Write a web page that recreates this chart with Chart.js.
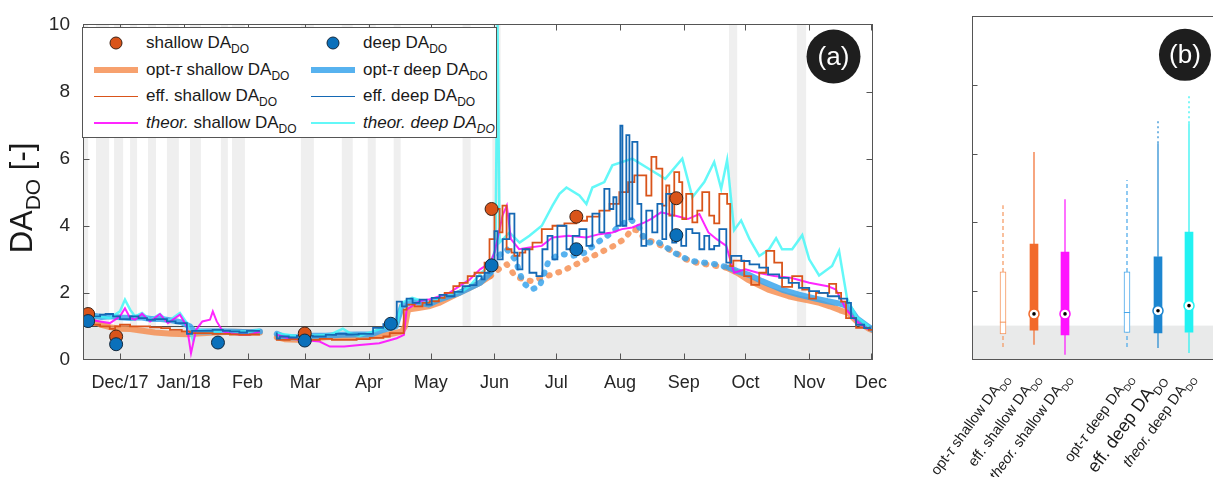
<!DOCTYPE html>
<html>
<head>
<meta charset="utf-8">
<script src="https://cdn.jsdelivr.net/npm/chart.js@4"></script>
<style>
  html, body { margin: 0; padding: 0; background: #fff; width: 1213px; height: 477px; overflow: hidden;
    font-family: "Liberation Sans", Arial, Helvetica, sans-serif; }
  #wrap { position: relative; width: 1213px; height: 477px; overflow: hidden; }
  #cA { position: absolute; left: 0; top: 0; }
  #cB { position: absolute; left: 900px; top: 0; }
  #legend { position: absolute; left: 82px; top: 27px; width: 415px; height: 111px; background: #fff;
    border: 1px solid #555; box-sizing: border-box; }
  .item { position: absolute; height: 24px; display: flex; align-items: center; font-size: 17px;
    color: #1a1a1a; white-space: nowrap; }
  .sym { width: 44px; height: 20px; position: relative; margin-right: 8px; flex: none; }
  .sym .ln { position: absolute; left: 0; right: 0; top: 50%; }
  .sym .dot { position: absolute; left: 50%; top: 50%; width: 13px; height: 13px; border-radius: 50%;
    transform: translate(-50%, -50%); box-sizing: border-box; }
  sub { font-size: 12px; vertical-align: -5px; line-height: 0; }
</style>
</head>
<body>
<div id="wrap">
  <canvas id="cA" width="900" height="477"></canvas>
  <canvas id="cB" width="360" height="477"></canvas>
  <div id="legend"></div>
</div>
<script>
// ---------- time axis: days counted from 1 Dec 2017 ----------
const monthTickDays   = [0, 31, 62, 90, 121, 151, 182, 212, 243, 274, 304, 335, 365];
const monthTickLabels = ['Dec/17', 'Jan/18', 'Feb', 'Mar', 'Apr', 'May', 'Jun', 'Jul', 'Aug', 'Sep', 'Oct', 'Nov', 'Dec'];
const yTickValues = [0, 2, 4, 6, 8, 10];
const refLevel = 1;

// periods shaded in the background (start day, end day)
const eventBands = [[-18, -15.5], [-11.7, -5.3], [-2.9, 1.5], [4.9, 8.3], [13.6, 17.5], [22.8, 28.6],
  [34, 39.3], [49, 52.4], [54.4, 60.7], [87.9, 94.2], [107.8, 113.1], [120.4, 124.3], [133, 136.4],
  [166.5, 170.4], [181, 185], [296, 300], [329, 333.5]];

// observed DA_DO at sampling campaigns [day, value]
const shallowObs = [[-15.5, 1.37], [-1.9, 0.7], [89.8, 0.79], [180.6, 4.5], [221.8, 4.27], [270.4, 4.82]];
const deepObs = [[-15.5, 1.16], [-1.9, 0.47], [47.6, 0.52], [89.8, 0.58], [131.6, 1.08], [180.6, 2.82], [221.8, 3.3], [270.4, 3.72]];

// opt-tau series
const optShallow = [[-17, 1.2], [-13, 1.15], [-9, 1.05], [-5, 0.98], [0, 0.93], [5, 0.92], [10, 0.88], [17, 0.82],
  [25, 0.78], [32.5, 0.77], [40, 0.8], [48, 0.83], [56, 0.84], [63, 0.83], [68, 0.82], [72, null],
  [76.2, 0.68], [80, 0.62], [86, 0.6], [94, 0.65], [100, 0.68], [108, 0.7], [115, 0.7], [122, 0.7], [130, 0.75],
  [137, 0.85], [138.5, 1.0], [140, 1.5], [145, 1.55], [150, 1.6], [155, 1.7], [160, 1.85], [165, 2.0], [170, 2.15],
  [175, 2.3], [180, 2.5], [184, 2.7], [188, 2.85], [192, 2.5], [196, 2.4], [200, 2.35], [205, 2.45], [210, 2.55],
  [215, 2.65], [220, 2.8], [225, 2.95], [230, 3.1], [235, 3.25], [240, 3.4], [245, 3.6], [249, 3.9], [252, 3.85],
  [255, 3.6], [260, 3.5], [265, 3.35], [270, 3.2], [275, 3.0], [280, 2.9], [285, 2.85], [290, 2.8], [295, 2.75],
  [300, 2.6], [305, 2.4], [310, 2.25], [315, 2.1], [320, 2.0], [325, 1.9], [330, 1.83], [335, 1.77], [340, 1.7],
  [345, 1.6], [350, 1.48], [354, 1.4], [358, 1.16], [364, 0.93], [366, 0.88]];
const optDeep = [[-17, 1.3], [-13, 1.32], [-9, 1.28], [-5, 1.3], [0, 1.27], [5, 1.25], [10, 1.27], [15, 1.22],
  [20, 1.22], [25, 1.18], [30, 1.12], [34, 1.0], [36, 0.85], [40, 0.85], [48, 0.86], [56, 0.84], [63, 0.83], [68, 0.85],
  [72, null], [76.2, 0.78], [80, 0.68], [86, 0.68], [94, 0.72], [100, 0.72], [108, 0.75], [115, 0.76], [122, 0.76],
  [128, 0.9], [134, 1.0], [137, 1.6], [142, 1.75], [150, 1.65], [155, 1.8], [160, 1.9], [165, 2.0], [170, 2.15],
  [175, 2.3], [180, 2.6], [184, 3.1], [188, 3.3], [192, 3.0], [196, 2.3], [200, 2.1], [204, 2.2], [208, 2.9],
  [212, 3.1], [216, 3.15], [220, 3.1], [226, 3.2], [232, 3.5], [238, 3.75], [243, 4.0], [248, 4.2], [252, 4.0],
  [256, 3.5], [262, 3.5], [267, 3.3], [272, 3.1], [278, 2.95], [284, 2.9], [290, 2.85], [296, 2.75], [300, 2.65],
  [306, 2.53], [312, 2.35], [318, 2.2], [322, 2.09], [330, 1.95], [338, 1.83], [344, 1.75], [350, 1.68], [354, 1.6],
  [358, 1.25], [364, 0.98], [366, 0.9]];

// effective series
const effShallow = [[-17, 1.3], [-13.6, 1.2], [-9.7, 1.05], [-5, 1.0], [-2.4, 0.93], [0, 1.0], [4.9, 1.05], [10, 1.0],
  [14.6, 1.0], [20, 0.97], [24.3, 0.95], [30, 0.9], [34, 0.85], [38.8, 0.8], [45, 0.8], [53.4, 0.78], [58, 0.76],
  [63.1, 0.75], [68, 0.76], [72, null], [76.2, 0.75], [82.5, 0.6], [87.4, 0.62], [93, 0.6], [97.1, 0.6], [103, 0.63],
  [109.2, 0.6], [115, 0.6], [121.4, 0.62], [128, 0.66], [131.1, 0.7], [137.9, 0.8], [139.3, 1.5], [143.2, 1.65],
  [147, 1.6], [150.5, 1.7], [155, 1.75], [157.8, 1.85], [162, 2.0], [165, 2.2], [169, 2.3], [172.3, 2.5], [177.2, 2.6],
  [179.6, 2.9], [182, 3.6], [184.5, 4.5], [185.9, 3.8], [187.9, 4.6], [190.3, 3.3], [191.7, 3.2], [194.2, 3.1],
  [197, 3.2], [200.5, 3.3], [205, 3.5], [210.2, 3.9], [216, 4.0], [221.8, 4.07], [227, 4.15], [233, 4.27],
  [238, 4.45], [242.7, 4.65], [247, 5.0], [250, 5.3], [252.4, 5.5], [255.8, 5.5], [258.3, 4.9], [260.7, 6.05],
  [263.6, 5.7], [265.5, 4.6], [267, 5.2], [269.4, 4.3], [271.8, 5.6], [273.3, 5.3], [275.2, 4.2], [278.2, 4.95],
  [280.6, 4.1], [283, 4.45], [286.4, 5.0], [288.8, 4.3], [291.3, 4.07], [295.1, 4.95], [296.6, 4.65], [298.1, 2.8],
  [303.4, 2.96], [306.8, 2.5], [310.7, 2.24], [314.1, 2.6], [318, 3.25], [321.8, 2.9], [326.7, 2.18], [331.6, 2.5],
  [335, 2.1], [338.3, 1.83], [344.7, 2.0], [348.1, 2.27], [350.5, 2.0], [352.9, 1.74], [357.8, 1.25], [364, 0.96],
  [366, 0.9]];
const effDeep = [[-17, 1.25], [-14.6, 1.4], [-12, 1.3], [-9.7, 1.3], [-7, 1.35], [-3.4, 1.37], [0, 1.3], [4.9, 1.22],
  [9, 1.3], [13.1, 1.25], [17, 1.2], [22.8, 1.22], [27, 1.15], [32.5, 1.1], [35, 0.78], [38.8, 0.87], [45, 0.87],
  [50, 0.9], [53.4, 0.87], [58, 0.85], [61.7, 0.82], [68, 0.87], [72, null], [76.2, 0.82], [77.7, 0.64], [82, 0.7],
  [86, 0.67], [93.7, 0.72], [100, 0.7], [105, 0.75], [110, 0.78], [116, 0.76], [123, 0.78], [128, 0.96], [134.5, 1.07],
  [137, 1.74], [139.3, 1.6], [142.2, 1.83], [145.6, 1.7], [149, 1.8], [151.5, 1.65], [155.3, 1.85], [158.7, 1.94],
  [162.6, 1.9], [166.5, 2.03], [170, 2.2], [173.3, 2.23], [175.7, 2.5], [177.2, 2.4], [179.6, 2.6], [182, 2.9],
  [183.5, 3.84], [186, 3.0], [189.3, 3.6], [191.7, 4.36], [193.2, 3.2], [195.6, 2.7], [199, 3.3], [202.4, 2.6],
  [205.3, 2.5], [207.8, 3.3], [210.2, 3.7], [212.6, 3.0], [217, 4.0], [220, 3.3], [223.3, 3.7], [226.7, 3.9],
  [229.6, 3.4], [233, 4.36], [235.4, 3.8], [237.9, 5.1], [239.8, 4.5], [241.3, 4.85], [243.2, 4.0], [244.2, 6.98],
  [246.1, 4.0], [247.6, 6.7], [249, 4.2], [251.5, 6.5], [253.4, 4.65], [255.8, 3.4], [258.7, 4.45], [261.2, 3.8],
  [263.6, 4.65], [265.5, 3.6], [268.4, 4.95], [270.4, 3.5], [272.8, 3.6], [275.2, 3.4], [278.2, 3.9], [281.6, 3.78],
  [284, 3.3], [286.4, 3.7], [288.8, 3.3], [291.3, 3.4], [294.7, 3.9], [297.1, 2.9], [302, 3.1], [306, 2.95],
  [310.7, 2.85], [315, 2.75], [320.4, 2.55], [325, 2.45], [330, 2.3], [335, 2.15], [339.8, 2.05], [344, 2.0],
  [349.5, 1.9], [353.4, 1.83], [355.3, 1.7], [357.8, 1.25], [361.7, 1.05], [365, 0.95]];

// theoretical series
const theorShallow = [[-17, 1.15], [-14.6, 1.2], [-9.7, 1.15], [-4.9, 1.1], [0, 1.3], [2.4, 1.54], [4.9, 1.25],
  [7.3, 1.2], [10.7, 1.38], [14.6, 1.15], [19.4, 1.37], [23.3, 1.1], [29.1, 1.35], [32.5, 1.0], [34.5, 0.2], [37, 0.9],
  [40, 1.15], [43.7, 1.2], [45.1, 1.45], [47, 1.15], [50, 0.85], [53.4, 0.8], [58.3, 0.75], [63.1, 0.75], [68, 0.85],
  [72, null], [76.2, 0.75], [82, 0.65], [87.4, 0.6], [97, 0.55], [102, 0.4], [109, 0.4], [116.5, 0.45], [126, 0.5],
  [134.5, 0.65], [138, 0.75], [139.3, 1.5], [145.6, 1.75], [150, 1.8], [155.3, 1.9], [160, 2.0], [165, 2.2],
  [170, 2.4], [175, 2.7], [180, 2.9], [182, 3.2], [185.9, 4.3], [188, 4.6], [190, 3.6], [194, 3.3], [199, 3.35],
  [205, 3.4], [210.2, 3.65], [218, 3.7], [226.7, 3.65], [233, 3.75], [239.3, 3.8], [244, 3.9], [249, 3.95],
  [255, 4.1], [258, 4.2], [263, 4.4], [270, 4.3], [276, 4.2], [281.6, 4.35], [286, 3.8], [290, 3.6], [294.7, 3.4],
  [297, 2.9], [298.5, 2.6], [304, 2.7], [310, 2.6], [318, 2.5], [326, 2.45], [335, 2.3], [344, 2.2], [348, 2.1],
  [353, 1.5], [358, 1.15], [364, 0.9]];
const theorDeep = [[-17, 1.2], [-12.1, 1.3], [-4.9, 1.25], [0, 1.45], [2.4, 1.8], [4.9, 1.5], [7.3, 1.3], [10.7, 1.4],
  [14.6, 1.2], [19.4, 1.37], [23.3, 1.15], [29.1, 1.4], [32.5, 1.1], [35.4, 0.6], [37.4, 0.9], [43.7, 0.85],
  [53.4, 0.85], [63.1, 0.85], [68, 0.9], [72, null], [76.2, 0.8], [87.4, 0.7], [101.9, 0.75], [108.3, 0.93],
  [111.7, 0.8], [116.5, 0.72], [127.7, 0.95], [134.5, 1.05], [136.9, 1.7], [142, 1.85], [150.5, 1.7], [159, 1.95],
  [166.5, 2.05], [169.9, 2.2], [175.7, 2.6], [179.6, 2.8], [182.5, 3.3], [183.5, 10], [184.5, 3.5], [189.3, 3.8],
  [194.2, 3.5], [199, 3.7], [205, 4.0], [210.2, 4.6], [213.6, 4.95], [217, 5.14], [223.3, 4.9], [226.7, 4.65],
  [229.6, 5.14], [235.4, 5.3], [239.3, 5.8], [249, 6.0], [257, 5.7], [265, 5.4], [273.3, 6.0], [278.2, 4.85],
  [284, 5.3], [288.8, 5.9], [292.2, 5.1], [295.1, 5.96], [298.5, 3.87], [301.9, 4.16], [306, 3.6], [310.7, 3.1],
  [315.5, 3.3], [318.9, 3.63], [321.8, 3.3], [326.7, 3.3], [331.6, 3.72], [335, 3.0], [339.8, 2.52], [346.1, 2.8],
  [349.5, 3.25], [353.4, 1.83], [357.8, 1.3], [364, 1.0]];

// ---------- distribution summary (panel b) ----------
const boxLabels = ['opt-*τ* shallow DA_DO', 'eff. shallow DA_DO', '*theor.* shallow DA_DO',
                   'opt-*τ* deep DA_DO', 'eff. deep DA_DO', '*theor.* deep DA_DO'];
const boxPos   = [1, 2, 3, 5, 6, 7];
const boxMin   = [0.38, 0.44, 0.15, 0.38, 0.35, 0.2];
const boxQ1    = [0.76, 0.87, 0.73, 0.8, 0.79, 0.81];
const boxMed   = [1.1, 1.34, 1.34, 1.38, 1.43, 1.58];
const boxQ3    = [2.56, 3.37, 3.14, 2.56, 3.0, 3.72];
const boxMax   = [4.5, 6.05, 4.67, 5.23, 6.3, 6.88];
const boxOutTop = [null, null, null, null, 6.98, 7.73];

// ---------- styling ----------
const FONT = '"Liberation Sans", Arial, Helvetica, sans-serif';
Chart.defaults.font.family = FONT;
Chart.defaults.color = '#262626';

const C = {
  shallowPt: '#d9541a', shallowPtEdge: '#3d2114',
  deepPt: '#0a70bb', deepPtEdge: '#14293d',
  optShallow: 'rgba(245,140,78,0.82)', optDeep: 'rgba(58,164,236,0.85)',
  effShallow: '#d9541a', effDeep: '#1468b4',
  theorShallow: 'rgba(255,0,255,0.85)', theorDeep: 'rgba(60,246,246,0.8)'
};
const boxStyle = [
  { color: '#f5955c', open: true }, { color: '#f26a2b' }, { color: '#ff12ff' },
  { color: '#45a6ea', open: true }, { color: '#1d86d0' }, { color: '#22f2f2' }
];
const boxFontSize = [14.5, 14.5, 14.5, 14.5, 18, 14.5];

// ---------- helpers ----------
const toXY = arr => arr.map(([d, v]) => ({ x: d, y: v }));

// "*...*" = italic, "_XX" = subscript up to the next space
function richParts(s) {
  const out = []; let it = false, sub = false, buf = '';
  const push = () => { if (buf) out.push({ t: buf, it, sub }); buf = ''; };
  for (const ch of s) {
    if (ch === '*') { push(); it = !it; }
    else if (ch === '_') { push(); sub = true; }
    else if (ch === ' ' && sub) { push(); sub = false; buf = ' '; }
    else buf += ch;
  }
  push();
  return out;
}
function richHtml(s) {
  return richParts(s).map(p => {
    let h = p.t.replace(/&/g, '&amp;').replace(/</g, '&lt;');
    if (p.it) h = '<i>' + h + '</i>';
    if (p.sub) h = '<sub>' + h + '</sub>';
    return h;
  }).join('');
}
function richFont(p, size, subSize) {
  return (p.it ? 'italic ' : '') + (p.sub ? subSize : size) + 'px ' + FONT;
}
function richWidth(ctx, parts, size, subSize) {
  let w = 0;
  parts.forEach(p => { ctx.font = richFont(p, size, subSize); w += ctx.measureText(p.t).width; });
  return w;
}
function richDraw(ctx, parts, size, subSize, x, y, subDrop) {
  parts.forEach(p => {
    ctx.font = richFont(p, size, subSize);
    ctx.fillText(p.t, x, y + (p.sub ? subDrop : 0));
    x += ctx.measureText(p.t).width;
  });
}

function drawFrame(chart, xTicks, yTicks, tickLen) {
  const { ctx, chartArea: a, scales: { x, y } } = chart;
  const L = Math.round(a.left) + 0.5, R = Math.round(a.right) - 0.5;
  const T = Math.round(a.top) + 0.5, B = Math.round(a.bottom) - 0.5;
  ctx.save();
  ctx.strokeStyle = '#555'; ctx.lineWidth = 1;
  ctx.strokeRect(L, T, R - L, B - T);
  ctx.beginPath();
  xTicks.forEach(v => {
    const px = Math.round(x.getPixelForValue(v)) + 0.5;
    ctx.moveTo(px, B); ctx.lineTo(px, B - tickLen);
    ctx.moveTo(px, T); ctx.lineTo(px, T + tickLen);
  });
  yTicks.forEach(v => {
    if (v <= y.min || v >= y.max) return;
    const py = Math.round(y.getPixelForValue(v)) + 0.5;
    ctx.moveTo(L, py); ctx.lineTo(L + tickLen, py);
    ctx.moveTo(R, py); ctx.lineTo(R - tickLen, py);
  });
  ctx.stroke();
  ctx.restore();
}
function drawRefBand(chart, withLine) {
  const { ctx, chartArea: a, scales: { y } } = chart;
  const yRef = y.getPixelForValue(refLevel);
  ctx.save();
  ctx.fillStyle = '#e9eaea';
  ctx.fillRect(a.left, yRef, a.right - a.left, a.bottom - yRef);
  if (withLine) {
    ctx.strokeStyle = '#4a4a4a'; ctx.lineWidth = 1;
    ctx.beginPath(); ctx.moveTo(a.left, Math.round(yRef) + 0.5); ctx.lineTo(a.right, Math.round(yRef) + 0.5); ctx.stroke();
  }
  ctx.restore();
}
function drawBadge(chart, text, xv, yv, r) {
  const { ctx, scales: { x, y } } = chart;
  const cx = x.getPixelForValue(xv), cy = y.getPixelForValue(yv);
  ctx.save();
  ctx.fillStyle = '#1e1e1e';
  ctx.beginPath(); ctx.arc(cx, cy, r, 0, Math.PI * 2); ctx.fill();
  ctx.fillStyle = '#fff'; ctx.font = '26px ' + FONT;
  ctx.textAlign = 'center'; ctx.textBaseline = 'middle';
  ctx.fillText(text, cx, cy + 1);
  ctx.restore();
}

// ---------- panel (a): time series ----------
const dottedSpan = [180, 298];   // days where the optimised traces are drawn as dots
const dotted = ctx => (ctx.p0.parsed.x >= dottedSpan[0] && ctx.p1.parsed.x <= dottedSpan[1]) ? [1, 9] : undefined;

function lineSet(label, pts, color, width, order, extra) {
  return Object.assign({
    type: 'line', label, data: toXY(pts), borderColor: color, backgroundColor: color,
    borderWidth: width, pointRadius: 0, tension: 0, spanGaps: false, fill: false, order
  }, extra || {});
}
function pointSet(label, pts, fillColor, edge, order) {
  return {
    type: 'line', label, data: toXY(pts), showLine: false, pointRadius: 6.5, pointHoverRadius: 6.5,
    pointBackgroundColor: fillColor, pointBorderColor: edge, pointBorderWidth: 1,
    borderColor: fillColor, backgroundColor: fillColor, order
  };
}

// legend order: column 1 = shallow, column 2 = deep
const datasetsA = [
  pointSet('shallow DA_DO', shallowObs, C.shallowPt, C.shallowPtEdge, 1),
  lineSet('opt-*τ* shallow DA_DO', optShallow, C.optShallow, 6, 8, { borderCapStyle: 'round', borderJoinStyle: 'round', segment: { borderDash: dotted } }),
  lineSet('eff. shallow DA_DO', effShallow, C.effShallow, 1.8, 4, { stepped: 'after' }),
  lineSet('*theor.* shallow DA_DO', theorShallow, C.theorShallow, 2, 5),
  pointSet('deep DA_DO', deepObs, C.deepPt, C.deepPtEdge, 0),
  lineSet('opt-*τ* deep DA_DO', optDeep, C.optDeep, 6, 7, { borderCapStyle: 'round', borderJoinStyle: 'round', segment: { borderDash: dotted } }),
  lineSet('eff. deep DA_DO', effDeep, C.effDeep, 1.8, 3, { stepped: 'after' }),
  lineSet('*theor. deep DA_DO*', theorDeep, C.theorDeep, 2.5, 6)
];

const panelAPlugin = {
  id: 'panelA',
  beforeDatasetsDraw(chart) {
    const { ctx, chartArea: a, scales: { x } } = chart;
    ctx.save();
    ctx.beginPath(); ctx.rect(a.left, a.top, a.right - a.left, a.bottom - a.top); ctx.clip();
    ctx.fillStyle = '#efefef';
    eventBands.forEach(([s, e]) => {
      const x0 = x.getPixelForValue(s), x1 = x.getPixelForValue(e);
      ctx.fillRect(x0, a.top, x1 - x0, a.bottom - a.top);
    });
    ctx.restore();
    drawRefBand(chart, true);
  },
  afterDatasetsDraw(chart) {
    drawFrame(chart, monthTickDays, yTickValues, 6);
  },
  afterDraw(chart) {
    drawBadge(chart, '(a)', 346.8, 9.04, 27);
    // y-axis title with subscript
    const { ctx } = chart;
    const parts = richParts('DA_DO [-]');
    const w = richWidth(ctx, parts, 31, 21);
    ctx.save();
    ctx.translate(32, 198);
    ctx.rotate(-Math.PI / 2);
    ctx.fillStyle = '#1a1a1a';
    ctx.textBaseline = 'alphabetic';
    richDraw(ctx, parts, 31, 21, -w / 2, 0, 8);
    ctx.restore();
  }
};

const chartA = new Chart(document.getElementById('cA'), {
  type: 'line',
  data: { datasets: datasetsA },
  options: {
    responsive: false, animation: false, devicePixelRatio: 1,
    layout: { padding: { top: 16, right: 27, left: 0, bottom: 0 } },
    plugins: { legend: { display: false }, tooltip: { enabled: false } },
    scales: {
      x: {
        type: 'linear', min: -18, max: 366, offset: false,
        grid: { display: false, drawTicks: false, offset: false }, border: { display: false },
        afterBuildTicks: s => { s.ticks = monthTickDays.map(v => ({ value: v })); },
        afterFit: s => { s.height = 117; },
        ticks: {
          autoSkip: false, maxRotation: 0, minRotation: 0, padding: 12,
          font: { size: 18 }, color: '#262626',
          callback: (v, i) => monthTickLabels[i]
        }
      },
      y: {
        type: 'linear', min: 0, max: 10,
        grid: { display: false, drawTicks: false }, border: { display: false },
        afterBuildTicks: s => { s.ticks = yTickValues.map(v => ({ value: v })); },
        afterFit: s => { s.width = 83; },
        ticks: { padding: 13, font: { size: 19 }, color: '#262626' }
      }
    }
  },
  plugins: [panelAPlugin]
});

// HTML legend built from the panel (a) datasets
(function buildLegend() {
  const box = document.getElementById('legend');
  chartA.data.datasets.forEach((ds, i) => {
    const col = Math.floor(i / 4), row = i % 4;
    const item = document.createElement('div');
    item.className = 'item';
    item.style.left = (col === 0 ? 11 : 228) + 'px';
    item.style.top = (15 + row * 26.7 - 12) + 'px';
    const sym = document.createElement('div');
    sym.className = 'sym';
    if (ds.showLine === false) {
      const d = document.createElement('div');
      d.className = 'dot';
      d.style.background = ds.pointBackgroundColor;
      d.style.border = '1px solid ' + ds.pointBorderColor;
      sym.appendChild(d);
    } else {
      const l = document.createElement('div');
      l.className = 'ln';
      l.style.height = ds.borderWidth + 'px';
      l.style.marginTop = (-ds.borderWidth / 2) + 'px';
      l.style.background = ds.borderColor;
      sym.appendChild(l);
    }
    const txt = document.createElement('span');
    txt.innerHTML = richHtml(ds.label);
    item.appendChild(sym); item.appendChild(txt);
    box.appendChild(item);
  });
})();

// ---------- panel (b): box plots ----------
const datasetsB = [];
boxPos.forEach((p, i) => {
  const st = boxStyle[i];
  const whisk = (y0, y1, dash) => ({
    type: 'line', data: [{ x: p, y: y0 }, { x: p, y: y1 }], borderColor: st.color, borderWidth: 1.2,
    borderDash: dash, pointRadius: 0, tension: 0, fill: false, order: 3
  });
  const dash = st.open ? [4, 3] : [];
  datasetsB.push(whisk(boxMin[i], boxQ1[i], dash));
  datasetsB.push(whisk(boxQ3[i], boxMax[i], dash));
  if (boxOutTop[i] != null) datasetsB.push(whisk(boxMax[i], boxOutTop[i], [2, 3]));
  datasetsB.push({
    type: 'bar', data: [{ x: p, y: [boxQ1[i], boxQ3[i]] }], grouped: false,
    barThickness: st.open ? 6 : 8, backgroundColor: st.open ? '#ffffff' : st.color,
    borderColor: st.color, borderWidth: st.open ? 1 : 0, borderSkipped: false, order: 2
  });
  if (st.open) {
    datasetsB.push({
      type: 'line', data: [{ x: p - 0.1, y: boxMed[i] }, { x: p + 0.1, y: boxMed[i] }],
      borderColor: st.color, borderWidth: 1, pointRadius: 0, order: 1
    });
  } else {
    datasetsB.push({
      type: 'line', data: [{ x: p, y: boxMed[i] }], showLine: false, pointRadius: 5,
      pointBackgroundColor: '#fff', pointBorderColor: st.color, pointBorderWidth: 1.5, order: 1
    });
    datasetsB.push({
      type: 'line', data: [{ x: p, y: boxMed[i] }], showLine: false, pointRadius: 1.8,
      pointBackgroundColor: '#000', pointBorderColor: '#000', pointBorderWidth: 0, order: 0
    });
  }
});

const panelBPlugin = {
  id: 'panelB',
  beforeDatasetsDraw(chart) { drawRefBand(chart, false); },
  afterDatasetsDraw(chart) { drawFrame(chart, [], [2, 4, 6, 8], 5); },
  afterDraw(chart) {
    drawBadge(chart, '(b)', 6.87, 8.87, 26);
    const { ctx, scales: { x } } = chart;
    const ang = -54 * Math.PI / 180;
    ctx.save();
    ctx.fillStyle = '#1a1a1a';
    ctx.textBaseline = 'alphabetic';
    boxLabels.forEach((lab, i) => {
      const size = boxFontSize[i], subSize = size * 0.66;
      const parts = richParts(lab);
      const w = richWidth(ctx, parts, size, subSize);
      ctx.save();
      ctx.translate(x.getPixelForValue(boxPos[i]) + 2, 375);
      ctx.rotate(ang);
      richDraw(ctx, parts, size, subSize, -w, size * 0.35, size * 0.3);
      ctx.restore();
    });
    ctx.restore();
  }
};

new Chart(document.getElementById('cB'), {
  type: 'line',
  data: { datasets: datasetsB },
  options: {
    responsive: false, animation: false, devicePixelRatio: 1,
    layout: { padding: { top: 16, right: 24.5, left: 0, bottom: 0 } },
    plugins: { legend: { display: false }, tooltip: { enabled: false } },
    scales: {
      x: {
        type: 'linear', min: 0, max: 8.5, offset: false,
        grid: { display: false, drawTicks: false, offset: false }, border: { display: false },
        ticks: { display: false },
        afterFit: s => { s.height = 117; }
      },
      y: {
        type: 'linear', min: 0, max: 10,
        grid: { display: false, drawTicks: false }, border: { display: false },
        ticks: { display: false },
        afterFit: s => { s.width = 72; }
      }
    }
  },
  plugins: [panelBPlugin]
});
</script>
</body>
</html>
